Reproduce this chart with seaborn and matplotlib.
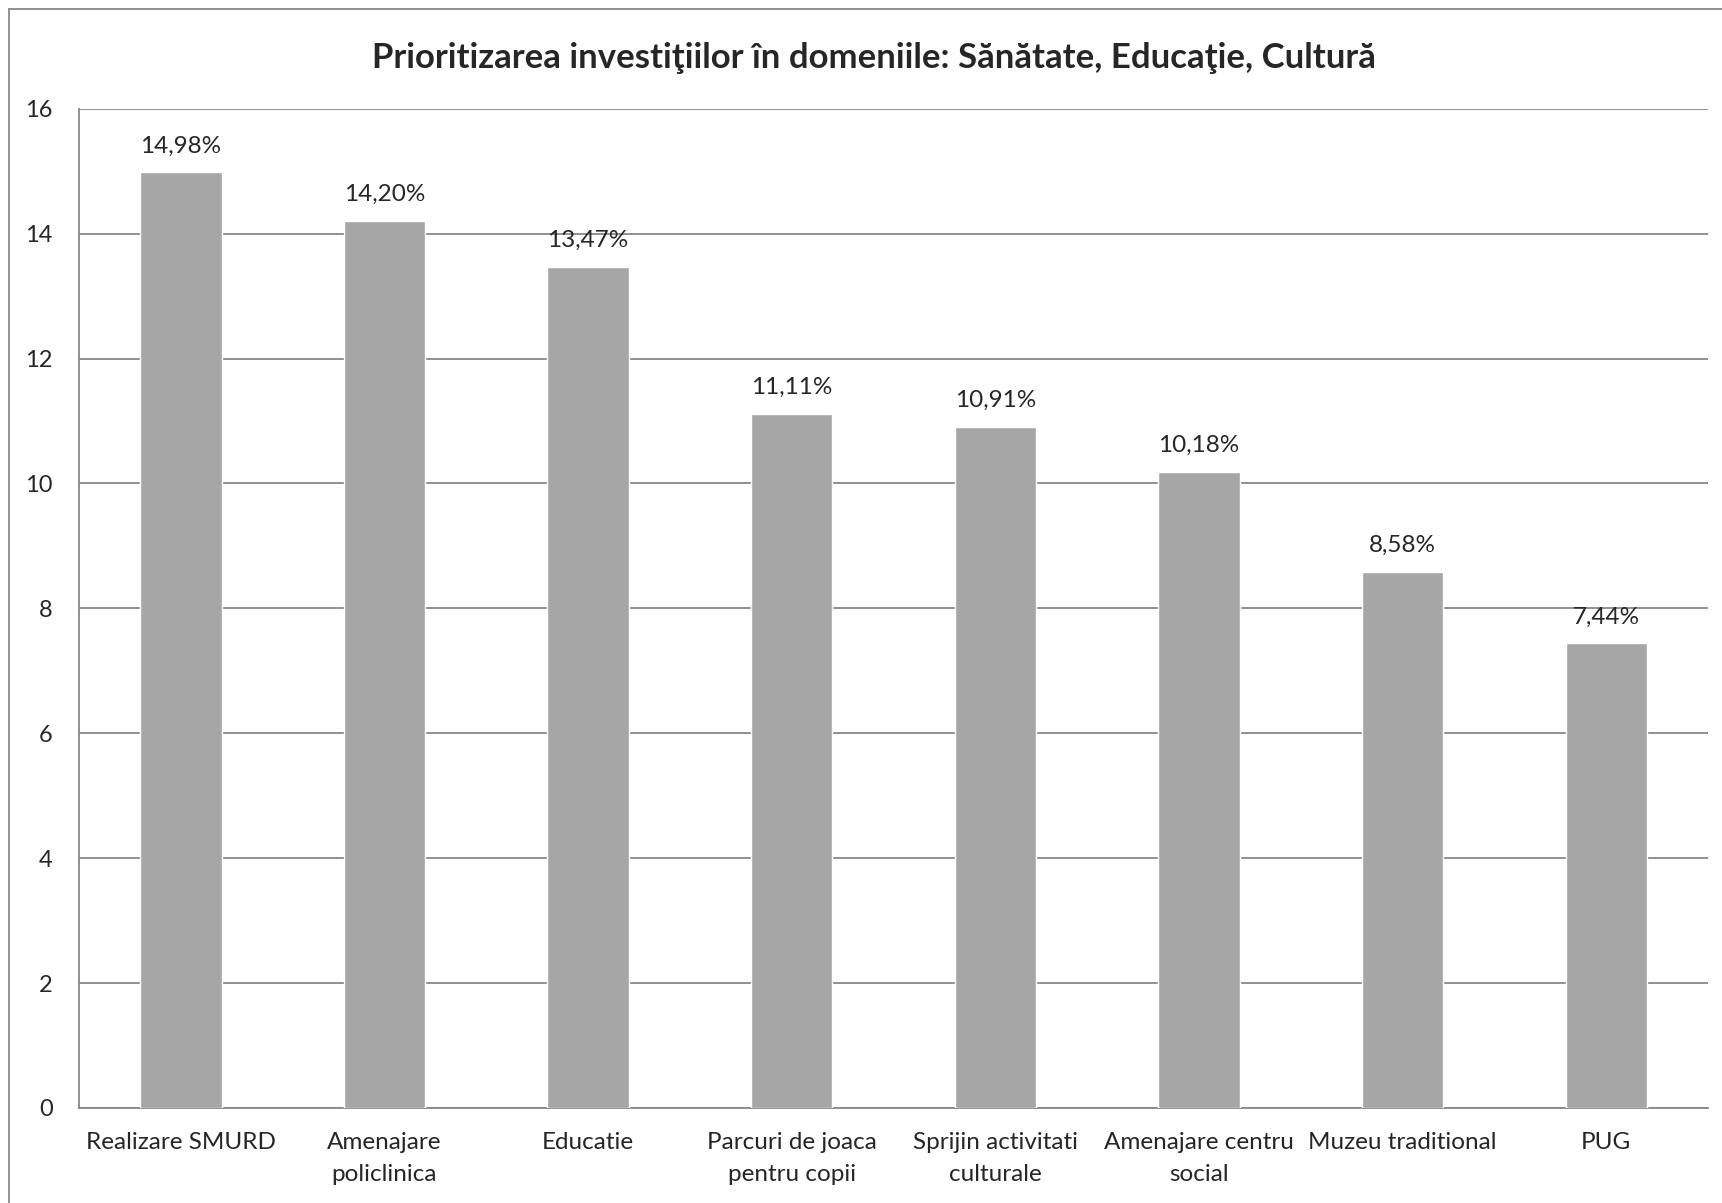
import matplotlib
matplotlib.use("Agg")
import matplotlib.pyplot as plt
import seaborn as sns
import pandas as pd
from matplotlib.lines import Line2D

# data
categories = ["Realizare SMURD", "Amenajare\npoliclinica", "Educatie",
              "Parcuri de joaca\npentru copii", "Sprijin activitati\nculturale",
              "Amenajare centru\nsocial", "Muzeu traditional", "PUG"]
values = [14.98, 14.20, 13.47, 11.11, 10.91, 10.18, 8.58, 7.44]
title = "Prioritizarea investiţiilor în domeniile: Sănătate, Educaţie, Cultură"

sns.set_style("white")
plt.rcParams['font.family'] = ['Lato', 'DejaVu Sans']

df = pd.DataFrame({'cat': categories, 'val': values})

fig = plt.figure(figsize=(17.22, 12.03), dpi=100)
ax = fig.add_axes([0.0459, 0.0790, 0.946, 0.8306])

grid_col = '#888888'
sns.barplot(data=df, x='cat', y='val', color='#A6A6A6', width=0.4,
            saturation=1, ax=ax, zorder=3)

ax.set_ylim(0, 16)
ax.set_yticks(range(0, 17, 2))
ax.yaxis.grid(True, color=grid_col, linewidth=1.3, zorder=0)
ax.set_axisbelow(True)
ax.set_xlabel("")
ax.set_ylabel("")
ax.set_xticks(range(len(categories)))
ax.set_xticklabels(categories, linespacing=1.65, fontsize=17.5)
ax.tick_params(axis='y', length=0, pad=19, labelsize=17)
ax.tick_params(axis='x', length=0, pad=17)
for s in ['top', 'right']:
    ax.spines[s].set_visible(False)
for s in ['left', 'bottom']:
    ax.spines[s].set_color(grid_col)
    ax.spines[s].set_linewidth(1.3)

for i, v in enumerate(values):
    ax.annotate(f"{v:.2f}%".replace('.', ','), (i, v), xytext=(0, 19),
                textcoords='offset points', ha='center', va='center', fontsize=17.5)

fig.text(874 / 1722, 1 - 58 / 1203, title, ha='center', va='center',
         fontsize=25, fontweight='bold')

# outer chart border (left and top edges only visible)
bx, by = 9 / 1722, 1 - 9 / 1203
fig.add_artist(Line2D([bx, bx], [0, by], color=grid_col, linewidth=1.3, transform=fig.transFigure))
fig.add_artist(Line2D([bx, 1], [by, by], color=grid_col, linewidth=1.3, transform=fig.transFigure))

fig.savefig("out.png", dpi=100)
